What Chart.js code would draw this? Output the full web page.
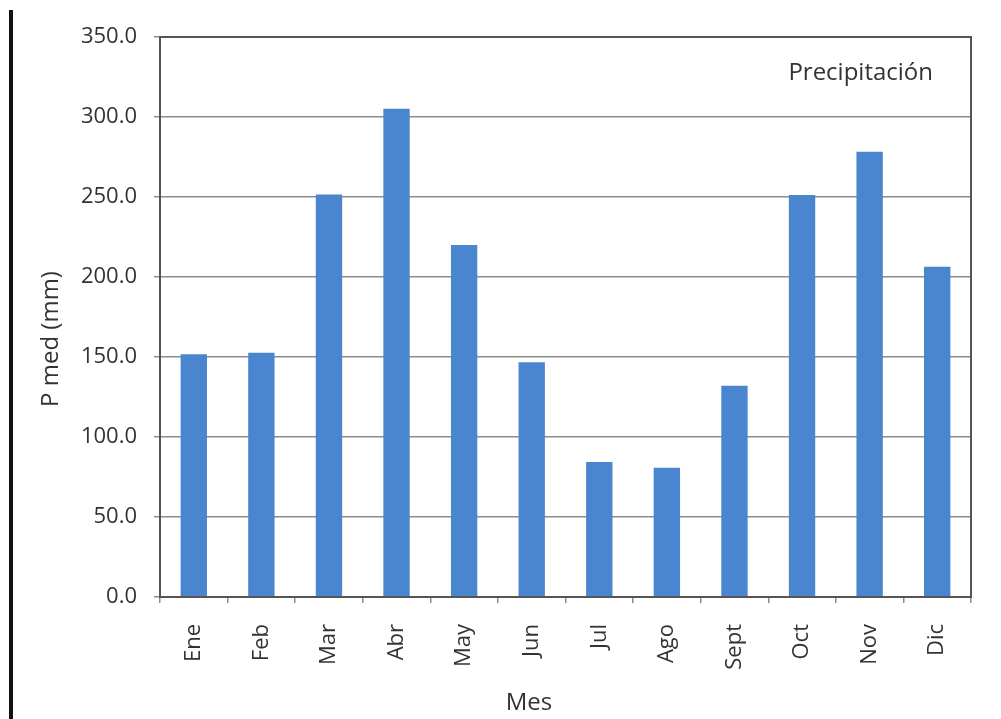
<!DOCTYPE html>
<html>
<head>
<meta charset="utf-8">
<script src="https://cdn.jsdelivr.net/npm/chart.js@4/dist/chart.umd.min.js"></script>
<style>
  body { margin: 0; background: #fff; }
  #wrap { position: relative; width: 1001px; height: 719px; }
  #edge { position: absolute; left: 9px; top: 10px; width: 4px; height: 709px; background: #111; }
</style>
</head>
<body>
<div id="wrap">
  <canvas id="precipChart"></canvas>
  <div id="edge"></div>
</div>
<script>
const months = ['Ene', 'Feb', 'Mar', 'Abr', 'May', 'Jun', 'Jul', 'Ago', 'Sept', 'Oct', 'Nov', 'Dic'];
const precipitacion = [151.7, 152.7, 251.5, 305.2, 220.0, 146.7, 84.4, 80.8, 132.0, 251.3, 278.3, 206.4];
const seriesName = 'Precipitación';
const yTitle = 'P med (mm)';
const xTitle = 'Mes';

const fontFamily = '"Open Sans", Lato, sans-serif';
const textColor = '#333333';
const gridColor = '#8c8c8c';
const axisColor = '#555555';

// caja del area de trazado + titulos de ejes y etiqueta de serie
const boxPlugin = {
    id: 'boxAndLabels',
    afterDraw(chart) {
        const { ctx, chartArea } = chart;
        ctx.save();
        ctx.strokeStyle = axisColor;
        ctx.lineWidth = 2;
        ctx.strokeRect(chartArea.left, chartArea.top, chartArea.right - chartArea.left, chartArea.bottom - chartArea.top);

        ctx.fillStyle = textColor;
        ctx.font = '24px ' + fontFamily;
        ctx.textAlign = 'right';
        ctx.textBaseline = 'middle';
        ctx.fillText(seriesName, chartArea.right - 38, chartArea.top + 36);

        ctx.textAlign = 'center';
        ctx.fillText(xTitle, 529, 703);

        ctx.translate(51, 339);
        ctx.rotate(-Math.PI / 2);
        ctx.fillText(yTitle, 0, 0);
        ctx.restore();
    }
};

const canvas = document.getElementById('precipChart');
new Chart(canvas, {
    type: 'bar',
    data: {
        labels: months,
        datasets: [{
            label: seriesName,
            data: precipitacion,
            backgroundColor: '#4a85d0',
            categoryPercentage: 1,
            barPercentage: 0.39
        }]
    },
    options: {
        responsive: true,
        maintainAspectRatio: false,
        animation: false,
        layout: { padding: { left: 0, top: 37, right: 30, bottom: 0 } },
        plugins: {
            legend: { display: false },
            tooltip: { enabled: false }
        },
        scales: {
            x: {
                grid: {
                    display: true,
                    offset: true,
                    drawOnChartArea: false,
                    tickLength: 6,
                    color: gridColor,
                    lineWidth: 1.5
                },
                border: { color: axisColor, width: 2 },
                ticks: {
                    color: textColor,
                    font: { family: fontFamily, size: 22 },
                    minRotation: 90,
                    maxRotation: 90,
                    padding: 21
                },
                afterFit(scale) { scale.height = 122; }
            },
            y: {
                min: 0,
                max: 350,
                grid: {
                    color: gridColor,
                    lineWidth: 1.5,
                    tickLength: 6
                },
                border: { color: axisColor, width: 2 },
                ticks: {
                    stepSize: 50,
                    color: textColor,
                    font: { family: fontFamily, size: 22 },
                    padding: 17,
                    callback: v => v.toFixed(1)
                },
                afterFit(scale) { scale.width = 160; }
            }
        }
    },
    plugins: [boxPlugin]
});
</script>
</body>
</html>
